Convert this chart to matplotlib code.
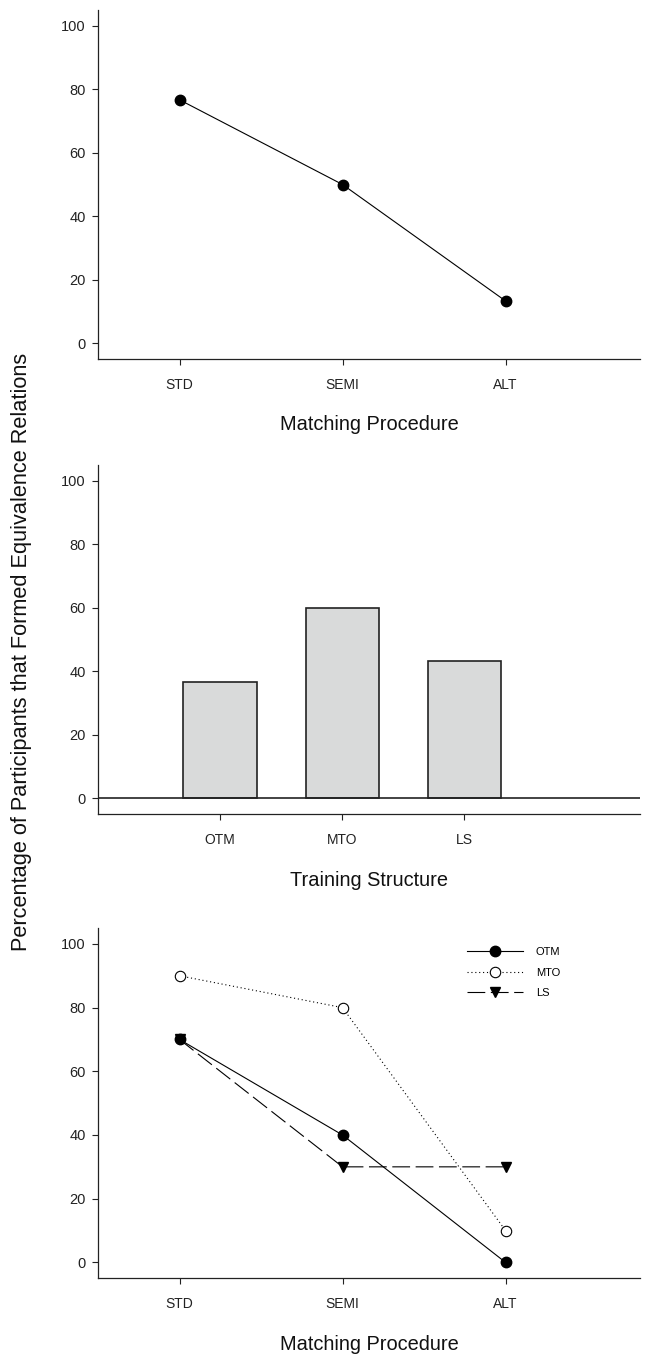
import numpy as np
import matplotlib
matplotlib.use("Agg")
from matplotlib import pyplot as plt

plt.rcParams['font.family'] = ['Liberation Sans', 'DejaVu Sans']

# data
procedures = ["STD", "SEMI", "ALT"]
pct_by_procedure = [76.7, 50.0, 13.3]

structures = ["OTM", "MTO", "LS"]
pct_by_structure = [36.7, 60.0, 43.3]

otm = [70, 40, 0]
mto = [90, 80, 10]
ls = [70, 30, 30]

W, H = 646, 1357
fig = plt.figure(figsize=(W / 100, H / 100), dpi=100)


def make_ax(top_px, bottom_px):
    ax = fig.add_axes([98 / W, 1 - bottom_px / H, 542 / W, (bottom_px - top_px) / H])
    for s in ["top", "right"]:
        ax.spines[s].set_visible(False)
    for s in ["left", "bottom"]:
        ax.spines[s].set_linewidth(0.9)
        ax.spines[s].set_color("#222222")
    ax.set_ylim(-5, 105)
    ax.set_yticks([0, 20, 40, 60, 80, 100])
    ax.tick_params(axis="y", direction="out", length=4.5, width=0.8, pad=4.5,
                   labelsize=10.5, colors="#222222")
    ax.tick_params(axis="x", direction="out", length=4.5, width=0.8, pad=9,
                   labelsize=10, colors="#222222")
    return ax


# panel 1
ax1 = make_ax(10, 359)
x = np.arange(1, len(procedures) + 1)
ax1.plot(x, pct_by_procedure, color="black", lw=0.8, marker="o", ms=7.5,
         mfc="black", mec="black")
ax1.set_xlim(0.5, 3.825)
ax1.set_xticks(x)
ax1.set_xticklabels(procedures)
ax1.set_xlabel("Matching Procedure", fontsize=14.4, labelpad=17, color="#111111")

# panel 2
ax2 = make_ax(465, 814.3)
xb = np.arange(1, len(structures) + 1)
ax2.bar(xb, pct_by_structure, width=0.6, color="#d9dada", edgecolor="#222222",
        linewidth=1.2, zorder=2)
ax2.axhline(0, color="#222222", lw=1.2, zorder=3)
ax2.set_xlim(0, 4.44)
ax2.set_xticks(xb)
ax2.set_xticklabels(structures)
ax2.set_xlabel("Training Structure", fontsize=14.4, labelpad=17, color="#111111")

# panel 3
ax3 = make_ax(928, 1278.3)
ax3.plot(x, otm, color="black", lw=0.8, marker="o", ms=7.5, mfc="black",
         mec="black", label="OTM", zorder=4)
ax3.plot(x, mto, color="black", lw=0.8, dashes=(1, 2.5), marker="o", ms=7.5,
         mfc="white", mec="black", mew=0.8, label="MTO", zorder=3)
ax3.plot(x, ls, color="black", lw=0.8, dashes=(16, 5), marker="v", ms=7,
         mfc="black", mec="black", label="LS", zorder=3)
ax3.set_xlim(0.5, 3.825)
ax3.set_xticks(x)
ax3.set_xticklabels(procedures)
ax3.set_xlabel("Matching Procedure", fontsize=14.4, labelpad=17, color="#111111")
ax3.legend(loc="upper left", bbox_to_anchor=(0.681, 0.945), frameon=False,
           fontsize=8, handlelength=5, handletextpad=1.2, labelspacing=0.95,
           borderpad=0, borderaxespad=0)

fig.text(22 / W, 1 - 652 / H,
         "Percentage of Participants that Formed Equivalence Relations",
         rotation=90, ha="center", va="center", fontsize=15.7, color="#111111")

fig.savefig("out.png", dpi=100)
